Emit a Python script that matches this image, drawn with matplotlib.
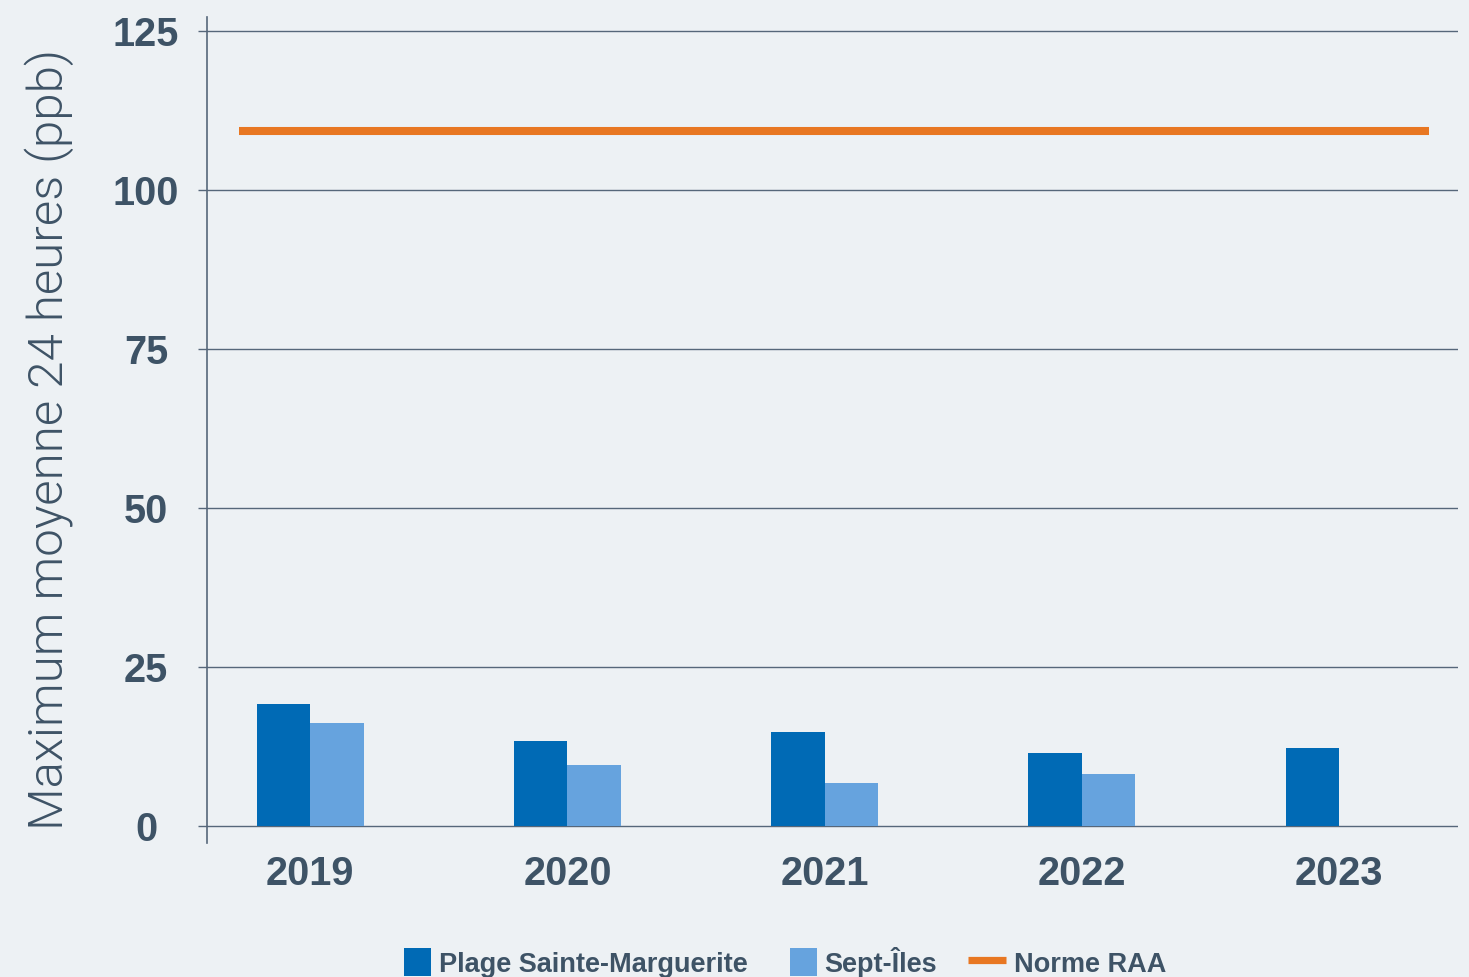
import numpy as np
import matplotlib
matplotlib.use("Agg")
import matplotlib.pyplot as plt
from matplotlib import font_manager
from matplotlib.patches import Rectangle
from matplotlib.lines import Line2D
from matplotlib.legend_handler import HandlerPatch

# ---- data ----
years = ["2019", "2020", "2021", "2022", "2023"]
plage_sm = [19.1, 13.3, 14.75, 11.4, 12.2]
sept_iles = [16.1, 9.5, 6.7, 8.05, np.nan]
norme_raa = 109.3
yticks = [0, 25, 50, 75, 100, 125]
ylabel = "Maximum moyenne 24 heures (ppb)"
legend_labels = ["Plage Sainte-Marguerite", "Sept-Îles", "Norme RAA"]

# ---- style ----
BG = "#edf1f4"
DARK = "#006ab5"
LIGHT = "#66a3de"
ORANGE = "#e87722"
TXT = "#3e5366"
GRID = "#56677a"

# find a light-weight sans font if available
light_family = "Liberation Sans"
light_weight = "normal"
for fam in ["Roboto", "Lato", "Open Sans", "Inter", "Noto Sans"]:
    found = [f for f in font_manager.fontManager.ttflist
             if f.name == fam and isinstance(f.weight, (int, float)) and f.weight <= 300
             and f.style == "normal"]
    if found:
        light_family = fam
        light_weight = found[0].weight
        break

W, H = 1469, 977
fig = plt.figure(figsize=(W / 100, H / 100), dpi=100, facecolor=BG)
ax = fig.add_axes([207 / W, 1 - 843 / H, (1457.7 - 207) / W, (843 - 17) / H])
ax.set_facecolor(BG)

x = np.arange(len(years))
w = 0.2073
ax.bar(x - w / 2, plage_sm, width=w, color=DARK, zorder=3)
ax.bar(x + w / 2, sept_iles, width=w, color=LIGHT, zorder=3)
ax.plot([x[0] - 0.2785, x[-1] + 0.352], [norme_raa, norme_raa], color=ORANGE,
        lw=5.8, solid_capstyle="butt", zorder=4)

ax.set_xlim(-0.4017, 4.4622)
ax.set_ylim(-2.75, 127.2)

for s in ["top", "right", "bottom"]:
    ax.spines[s].set_visible(False)
ax.spines["left"].set_color(GRID)
ax.spines["left"].set_linewidth(1.2)

ax.set_yticks(yticks)
ax.set_yticklabels([str(t) for t in yticks])
ax.yaxis.grid(True, color=GRID, lw=1.0, zorder=1)
ax.set_axisbelow(True)
ax.tick_params(axis="y", direction="out", length=6.5, width=1.0, color=GRID,
               pad=37.4, labelsize=28.5, labelcolor=TXT)
for lab in ax.get_yticklabels():
    lab.set_ha("center")
    lab.set_fontweight("bold")
    lab.set_fontfamily("Liberation Sans")

ax.set_xticks(x)
ax.set_xticklabels(years)
ax.tick_params(axis="x", length=0, pad=8.5, labelsize=28.5, labelcolor=TXT)
for lab in ax.get_xticklabels():
    lab.set_fontweight("bold")
    lab.set_fontfamily("Liberation Sans")

fig.text(63 / W, 1 - 830 / H, ylabel, rotation=90, rotation_mode="anchor",
         ha="left", va="baseline", fontsize=35.5, color=TXT,
         family=light_family, weight=light_weight)

# legend
class RightRect(HandlerPatch):
    def create_artists(self, legend, orig_handle, xdescent, ydescent, width,
                       height, fontsize, trans):
        sq = height
        r = Rectangle((-xdescent + width - sq * 0.96, -ydescent), sq * 0.96, height,
                      facecolor=orig_handle.get_facecolor(), edgecolor="none",
                      transform=trans)
        return [r]

h1 = Rectangle((0, 0), 1, 1, facecolor=DARK)
h2 = Rectangle((0, 0), 1, 1, facecolor=LIGHT)
h3 = Line2D([0], [0], color=ORANGE, lw=5.2, solid_capstyle="butt")
leg = fig.legend([h1, h2, h3], legend_labels, loc="center",
                 bbox_to_anchor=(779.5 / W, 1 - 962 / H), ncol=3, frameon=False,
                 handlelength=1.41, handleheight=1.2, handletextpad=0.28,
                 columnspacing=1.15, borderpad=0, borderaxespad=0,
                 handler_map={Rectangle: RightRect()},
                 prop={"family": "Liberation Sans", "weight": "bold", "size": 19.5})
for t in leg.get_texts():
    t.set_color(TXT)

fig.savefig("out.png", dpi=100, facecolor=BG)
